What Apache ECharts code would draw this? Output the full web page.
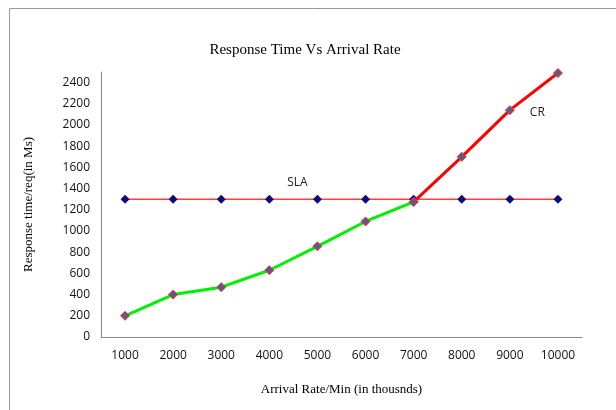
<!DOCTYPE html>
<html>
<head>
<meta charset="utf-8">
<script src="https://cdn.jsdelivr.net/npm/echarts@6/dist/echarts.min.js"></script>
<style>
  html, body { margin: 0; padding: 0; background: #fff; }
  #chart { width: 616px; height: 410px; }
</style>
</head>
<body>
<div id="chart"></div>
<script>
var chartDom = document.getElementById('chart');
var myChart = echarts.init(chartDom);

// data
var arrivalRates = ['1000', '2000', '3000', '4000', '5000', '6000', '7000', '8000', '9000', '10000'];
var crValues = [200, 400, 470, 630, 855, 1090, 1275, 1700, 2140, 2490];
var slaValues = [1300, 1300, 1300, 1300, 1300, 1300, 1300, 1300, 1300, 1300];

// index where the CR line turns red (it crosses the SLA there)
var breakIndex = 6;

var serif = '"Liberation Serif", "DejaVu Serif", serif';
var sans = '"Open Sans", "Noto Sans", sans-serif';

// sla series, with the label on one point
var slaData = slaValues.map(function (v, i) {
  if (i === 4) {
    return {
      value: v,
      label: { show: true, formatter: 'SLA', position: 'top', offset: [-20, -1], fontFamily: sans, fontSize: 12, color: '#222' }
    };
  }
  return v;
});

// cr series split in two pieces: green below the SLA, red above
var crGreen = crValues.map(function (v, i) { return i <= breakIndex ? v : null; });
var crRed = crValues.map(function (v, i) {
  if (i < breakIndex) return null;
  if (i === 8) {
    return {
      value: v,
      label: { show: true, formatter: 'CR', position: 'right', offset: [10, 2], fontFamily: sans, fontSize: 12, color: '#222' }
    };
  }
  return v;
});

var crMarker = {
  color: '#5d5b86',
  borderColor: '#ff3030',
  borderWidth: 1
};

var option = {
  animation: false,
  backgroundColor: '#fff',
  title: {
    text: 'Response Time Vs Arrival Rate',
    left: 300,
    top: 38,
    textAlign: 'center',
    textStyle: { fontFamily: serif, fontSize: 15, fontWeight: 'normal', color: '#000' }
  },
  grid: { left: 101, right: 34, top: 72, bottom: 73 },
  xAxis: {
    type: 'category',
    data: arrivalRates,
    boundaryGap: true,
    name: 'Arrival Rate/Min (in thousnds)',
    nameLocation: 'middle',
    nameGap: 46,
    nameTextStyle: { fontFamily: serif, fontSize: 13, color: '#000' },
    axisLine: { lineStyle: { color: '#888', width: 1 } },
    axisTick: { show: false },
    axisLabel: { fontFamily: sans, fontSize: 12, color: '#111', margin: 13 }
  },
  yAxis: {
    type: 'value',
    min: 0,
    max: 2500,
    interval: 200,
    name: 'Response time/req(in Ms)',
    nameLocation: 'middle',
    nameGap: 66,
    nameRotate: 90,
    nameTextStyle: { fontFamily: serif, fontSize: 13, color: '#000' },
    axisLine: { show: true, lineStyle: { color: '#888', width: 1 } },
    axisTick: { show: false },
    splitLine: { show: false },
    axisLabel: {
      fontFamily: sans,
      fontSize: 12,
      color: '#111',
      margin: 11,
      showMaxLabel: false,
      formatter: function (v) { return String(v); }
    }
  },
  series: [
    {
      name: 'SLA',
      type: 'line',
      data: slaData,
      symbol: 'diamond',
      symbolSize: 9,
      lineStyle: { color: '#ff4040', width: 1.5 },
      itemStyle: { color: '#0a0a78' },
      z: 2
    },
    {
      name: 'CR',
      type: 'line',
      data: crGreen,
      symbol: 'diamond',
      symbolSize: 9,
      lineStyle: { color: '#00ee00', width: 3 },
      itemStyle: crMarker,
      z: 3
    },
    {
      name: 'CR high',
      type: 'line',
      data: crRed,
      symbol: 'diamond',
      symbolSize: 9,
      lineStyle: { color: '#ff0000', width: 3 },
      itemStyle: crMarker,
      z: 3
    }
  ],
  graphic: [
    {
      type: 'rect',
      shape: { x: 9.5, y: 8.5, width: 640, height: 420 },
      style: { fill: null, stroke: '#999', lineWidth: 1 },
      silent: true
    }
  ]
};

myChart.setOption(option);
window.onresize = function () {
  myChart.resize();
};
</script>
</body>
</html>
